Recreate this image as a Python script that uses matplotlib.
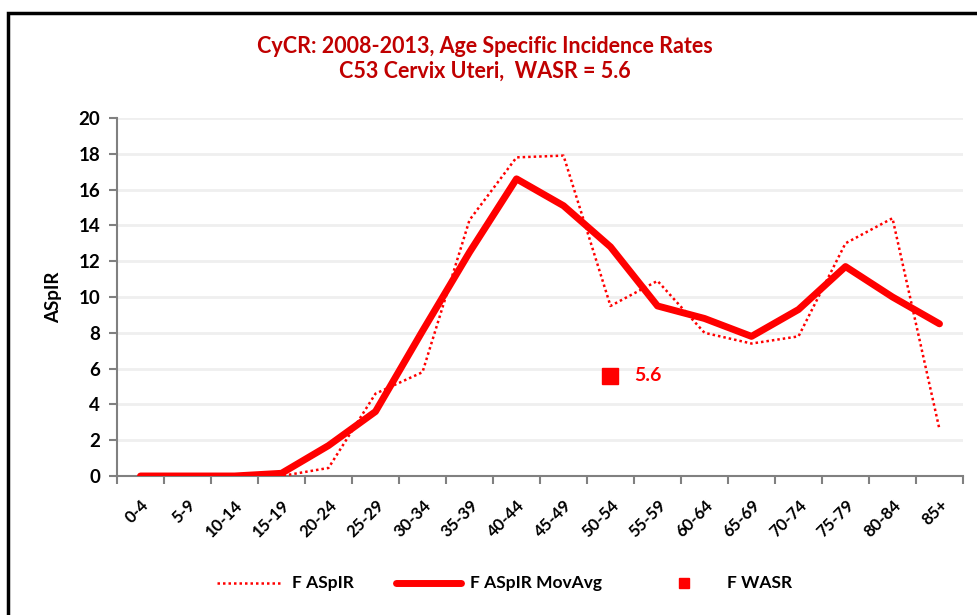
import matplotlib
matplotlib.use("Agg")
import matplotlib.pyplot as plt
from matplotlib.lines import Line2D
from matplotlib.patches import Rectangle

plt.rcParams['font.family'] = ['Lato', 'DejaVu Sans']

# 数据
age_groups = ["0-4", "5-9", "10-14", "15-19", "20-24", "25-29", "30-34", "35-39", "40-44",
              "45-49", "50-54", "55-59", "60-64", "65-69", "70-74", "75-79", "80-84", "85+"]
f_aspir = [0.0, 0.0, 0.0, 0.0, 0.45, 4.6, 5.8, 14.3, 17.8,
           17.9, 9.5, 10.9, 8.0, 7.4, 7.8, 13.0, 14.4, 2.6]
f_movavg = [0.0, 0.0, 0.0, 0.15, 1.7, 3.6, 8.1, 12.5, 16.6,
            15.1, 12.8, 9.5, 8.8, 7.8, 9.3, 11.7, 10.0, 8.5]
wasr = 5.6
wasr_group = "50-54"
legend_labels = ["F ASpIR", "F ASpIR MovAvg", "F WASR"]

title = "CyCR: 2008-2013, Age Specific Incidence Rates\nC53 Cervix Uteri,  WASR = 5.6"

W, H = 978, 615
fig = plt.figure(figsize=(W / 100, H / 100), dpi=100)
ax = fig.add_axes([117 / W, 1 - 476 / H, (963 - 117) / W, (476 - 118) / H])

x = list(range(len(age_groups)))
wx = age_groups.index(wasr_group)
dots = (0, (1, 1.2))

ax.plot(x, f_aspir, color="#FF0000", linestyle=dots, linewidth=1.8, zorder=3)
ax.plot(x, f_movavg, color="#FF0000", linewidth=5, solid_joinstyle="round",
        solid_capstyle="round", zorder=4)
ax.plot([wx], [wasr], marker="s", markersize=11, color="#FF0000", linestyle="none", zorder=5)
ax.text(wx + 0.5, wasr, f"{wasr}", color="#FF0000", fontsize=14, fontweight="bold",
        va="center", ha="left")

# 坐标轴
ax.set_xlim(-0.5, len(age_groups) - 0.5)
ax.set_ylim(0, 20)
ax.set_yticks(range(0, 21, 2))
ax.set_xticks([i - 0.5 for i in range(len(age_groups) + 1)])
ax.set_xticklabels([])
ax.set_xticks(x, minor=True)
ax.set_xticklabels(age_groups, minor=True, rotation=45, ha="right", va="top",
                   rotation_mode="anchor", fontsize=12, fontweight="bold")
ax.tick_params(axis="x", which="minor", length=0, pad=15)
ax.tick_params(axis="x", which="major", length=6, width=1.5, color="#808080", direction="out")
ax.tick_params(axis="y", length=6, width=1.5, color="#808080", direction="out", pad=6,
               labelsize=13.5)
for lab in ax.get_yticklabels():
    lab.set_fontweight("bold")

ax.grid(axis="y", color="#EFEFEF", linewidth=2)
ax.set_axisbelow(True)
for s in ["top", "right"]:
    ax.spines[s].set_visible(False)
for s in ["left", "bottom"]:
    ax.spines[s].set_color("#808080")
    ax.spines[s].set_linewidth(1.5)

ax.set_ylabel("ASpIR", fontsize=13.5, fontweight="bold", labelpad=12)

fig.text(485 / W, 1 - 59 / H, title, color="#C00000", fontsize=15.5, fontweight="bold",
         ha="center", va="center", linespacing=1.25)

# 图例（手动摆放）
ly = 1 - 583 / H
fig.add_artist(Line2D([217 / W, 280 / W], [ly, ly], color="#FF0000", linestyle=dots,
                      linewidth=1.8, transform=fig.transFigure))
fig.add_artist(Line2D([396 / W, 461 / W], [ly, ly], color="#FF0000", linewidth=5,
                      solid_capstyle="round", transform=fig.transFigure))
fig.add_artist(Line2D([684 / W], [ly], color="#FF0000", marker="s", markersize=7.5,
                      linestyle="none", transform=fig.transFigure))
for lx, txt in zip([292, 470, 727], legend_labels):
    fig.text(lx / W, ly, txt, fontsize=12.5, fontweight="bold", ha="left", va="center")

# 外框
fig.patches.append(Rectangle((8 / W, -0.1), 1.2, 1 - 13 / H + 0.1,
                             transform=fig.transFigure, fill=False,
                             edgecolor="black", linewidth=2.5))

fig.savefig("out.png", dpi=100)
plt.close(fig)
